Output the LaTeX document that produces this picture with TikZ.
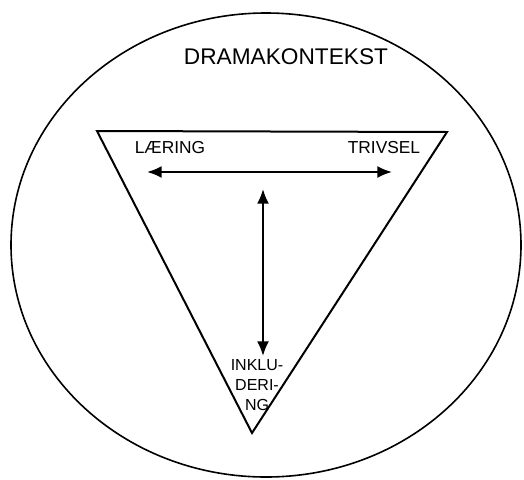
\documentclass[tikz,border=0pt]{standalone}
\usepackage{fontspec}
\setmainfont{Liberation Sans}
\usetikzlibrary{arrows.meta}

\tikzset{every picture/.style={line width=0.75pt}}
\tikzset{
  hand text/.style={font=\fontsize{13}{13}\selectfont, inner sep=0pt},
  title text/.style={font=\fontsize{17}{17}\selectfont, inner sep=0pt},
  two way/.style={line width=1.5, {Latex[length=11pt,width=9pt]}-{Latex[length=11pt,width=9pt]}},
}

\begin{document}
\begin{tikzpicture}[x=0.75pt,y=0.75pt,yscale=-1,xscale=1]
\useasboundingbox (0,0) rectangle (524,479);

%Shape: Ellipse [id:context]
\draw  [line width=1.2]  (266,245) ellipse [x radius=255, y radius=232] ;
%Shape: Triangle [id:triad]
\draw  [line width=1.5]  (97,131) -- (447,132) -- (252,433) -- cycle ;

% Text Node
\node [title text] (drama) at (286,57) {DRAMAKONTEKST};
% Text Node
\node [hand text] (laering) at (170,148) {LÆRING};
% Text Node
\node [hand text] (trivsel) at (384,148) {TRIVSEL};
% Text Node
\node [hand text, font=\fontsize{12}{12}\selectfont, align=center] (inkl) at (257,385) {INKLU-\\[3pt]DERI-\\[3pt]NG};

% Arrow ends
\coordinate (hl) at (147,172);
\coordinate (hr) at (392,172);
\coordinate (vt) at (263,189);
\coordinate (vb) at (263,356);

%Straight Lines [id:arrows]
\draw [two way] (hl) -- (hr) ;
\draw [two way] (vt) -- (vb) ;

\end{tikzpicture}
\end{document}
